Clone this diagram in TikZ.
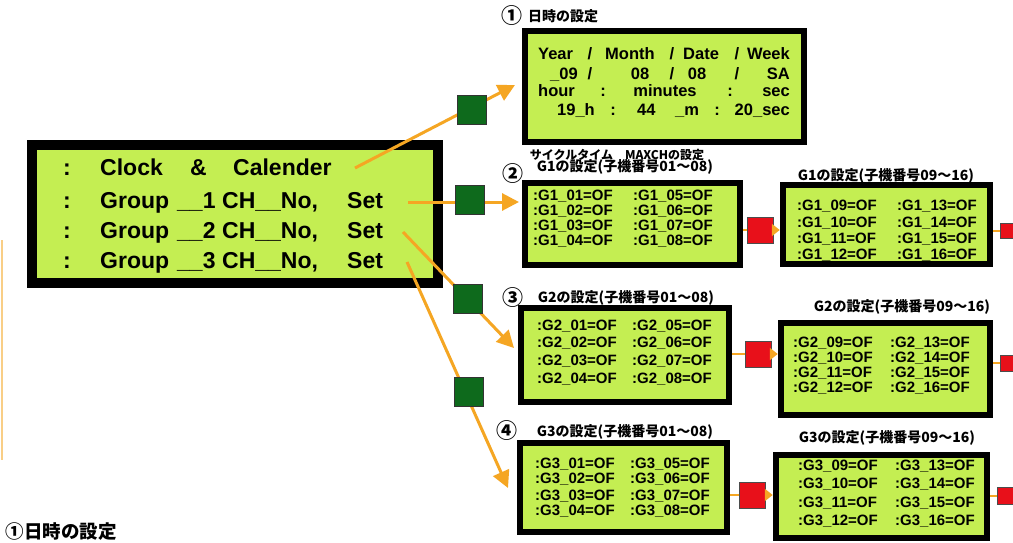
\documentclass[tikz,border=0pt]{standalone}
\usepackage{fontspec}
\setmainfont{Liberation Sans}
\newfontfamily\jp{Noto Sans CJK JP}
\usetikzlibrary{arrows.meta}
\definecolor{lcd}{HTML}{C4EE52}
\definecolor{org}{HTML}{F5A623}
\definecolor{dgreen}{HTML}{0E6A1C}
\definecolor{rred}{HTML}{E8101A}
\tikzset{
 lcdbox/.style={draw=black, fill=lcd, line width=6.5pt, inner sep=0pt},
 mainbox/.style={lcdbox, line width=10pt},
 big/.style={font=\fontsize{23}{25}\selectfont\bfseries, inner sep=0pt, anchor=base west},
 clk/.style={font=\fontsize{16.5}{18}\selectfont\bfseries, inner sep=0pt},
 cell/.style={font=\fontsize{15}{17}\selectfont\bfseries, inner sep=0pt, anchor=base west},
 lbl/.style={font=\jp\fontsize{14}{16}\selectfont\bfseries, inner sep=0pt},
 circ/.style={font=\jp\fontsize{21}{23}\selectfont\bfseries, inner sep=0pt},
 gsq/.style={draw=black!80, fill=dgreen, line width=0.8pt, minimum size=29pt, inner sep=0pt},
 rsq/.style={draw=black!70, fill=rred, line width=0.8pt, minimum size=26pt, inner sep=0pt},
 conn/.style={draw=org, line width=3pt},
 arr/.style={conn, -{Triangle[length=17pt,width=17pt]}},
 short/.style={conn, line width=2.5pt},
 sarr/.style={short, -{Triangle[length=8pt,width=12pt]}},
}
\begin{document}
\begin{tikzpicture}[x=1pt,y=-1pt]
\useasboundingbox (0,0) rectangle (1013,543);
\fill[white] (0,0) rectangle (1013,543);
% faint line at left edge
\draw[org!55, line width=1.5pt] (2,240) -- (2,460);
% boxes
\node[mainbox, minimum width=406pt, minimum height=138pt] (main) at (235,214) {};
\node[lcdbox, minimum width=279pt, minimum height=111pt] (clock) at (664.5,86.5) {};
\node[lcdbox, minimum width=215pt, minimum height=82pt] (g1a) at (632.5,224) {};
\node[lcdbox, minimum width=207pt, minimum height=79pt] (g1b) at (886.5,224.5) {};
\node[lcdbox, minimum width=208pt, minimum height=94pt] (g2a) at (625,355) {};
\node[lcdbox, minimum width=209pt, minimum height=92pt] (g2b) at (885.5,369) {};
\node[lcdbox, minimum width=207pt, minimum height=89pt] (g3a) at (623.5,487.5) {};
\node[lcdbox, minimum width=211pt, minimum height=83pt] (g3b) at (881.5,496.5) {};
% main box text
\foreach \n/\y in {1/175,2/208,3/238,4/268} {
  \node[big, anchor=base] (mc\n) at (67,\y) {:};
}
\node[big] (m1a) at (100,175) {Clock};
\node[big] (m1b) at (190,175) {\&};
\node[big] (m1c) at (233,175) {Calender};
\foreach \n/\y in {2/208,3/238,4/268} {
  \pgfmathtruncatemacro\g{\n-1}
  \node[big] (m\n a) at (100,\y) {Group};
  \node[big] (m\n b) at (177,\y) {\_\_\g};
  \node[big] (m\n c) at (222,\y) {CH\_\_No,};
  \node[big] (m\n d) at (347,\y) {Set};
}
% clock box text
\node[clk, anchor=base west] (c1a) at (538,60) {Year};
\node[clk, anchor=base] (c1b) at (590,60) {/};
\node[clk, anchor=base west] (c1c) at (605,60) {Month};
\node[clk, anchor=base] (c1d) at (672,60) {/};
\node[clk, anchor=base west] (c1e) at (683,60) {Date};
\node[clk, anchor=base] (c1f) at (737,60) {/};
\node[clk, anchor=base east] (c1g) at (790,60) {Week};
\node[clk, anchor=base west] (c2a) at (550,80) {\_09};
\node[clk, anchor=base] (c2b) at (590,80) {/};
\node[clk, anchor=base] (c2c) at (640,80) {08};
\node[clk, anchor=base] (c2d) at (672,80) {/};
\node[clk, anchor=base] (c2e) at (697,80) {08};
\node[clk, anchor=base] (c2f) at (737,80) {/};
\node[clk, anchor=base east] (c2g) at (790,80) {SA};
\node[clk, anchor=base west] (c3a) at (538,96) {hour};
\node[clk, anchor=base] (c3b) at (603,96) {:};
\node[clk, anchor=base] (c3c) at (665,96) {minutes};
\node[clk, anchor=base] (c3d) at (730,96) {:};
\node[clk, anchor=base east] (c3e) at (790,96) {sec};
\node[clk, anchor=base west] (c4a) at (557,116) {19\_h};
\node[clk, anchor=base] (c4b) at (613,116) {:};
\node[clk, anchor=base west] (c4c) at (637,116) {44};
\node[clk, anchor=base west] (c4d) at (675,116) {\_m};
\node[clk, anchor=base] (c4e) at (717,116) {:};
\node[clk, anchor=base east] (c4f) at (790,116) {20\_sec};
% cells
\foreach \a/\b/\y in {01/05/200,02/06/215,03/07/230,04/08/245}
  {\node[cell] (g1a-\a) at (533,\y) {:G1\_\a=OF}; \node[cell] (g1a-\b) at (633,\y) {:G1\_\b=OF};}
\foreach \a/\b/\y in {09/13/210,10/14/227,11/15/243,12/16/259}
  {\node[cell] (g1b-\a) at (797,\y) {:G1\_\a=OF}; \node[cell] (g1b-\b) at (897,\y) {:G1\_\b=OF};}
\foreach \a/\b/\y in {01/05/330,02/06/347,03/07/365,04/08/383}
  {\node[cell] (g2a-\a) at (537,\y) {:G2\_\a=OF}; \node[cell] (g2a-\b) at (632,\y) {:G2\_\b=OF};}
\foreach \a/\b/\y in {09/13/347,10/14/362,11/15/377,12/16/392}
  {\node[cell] (g2b-\a) at (793,\y) {:G2\_\a=OF}; \node[cell] (g2b-\b) at (890,\y) {:G2\_\b=OF};}
\foreach \a/\b/\y in {01/05/468,02/06/483,03/07/500,04/08/515}
  {\node[cell] (g3a-\a) at (535,\y) {:G3\_\a=OF}; \node[cell] (g3a-\b) at (630,\y) {:G3\_\b=OF};}
\foreach \a/\b/\y in {09/13/470,10/14/488,11/15/507,12/16/525}
  {\node[cell] (g3b-\a) at (798,\y) {:G3\_\a=OF}; \node[cell] (g3b-\b) at (895,\y) {:G3\_\b=OF};}
% labels
\node[circ] (n1) at (512,16) {①};
\node[lbl, anchor=west] (l1) at (528,16) {日時の設定};
\node[lbl, font=\jp\fontsize{12}{14}\selectfont\bfseries] (lcyc) at (617,155) {サイクルタイム　MAXCHの設定};
\node[lbl] (l2a) at (625,167) {G1の設定(子機番号01～08)};
\node[circ] (n2) at (513,174) {②};
\node[lbl] (l2b) at (886,176) {G1の設定(子機番号09～16)};
\node[circ] (n3) at (513,298) {③};
\node[lbl] (l3a) at (626,298) {G2の設定(子機番号01～08)};
\node[lbl] (l3b) at (902,307) {G2の設定(子機番号09～16)};
\node[circ] (n4) at (507,431) {④};
\node[lbl] (l4a) at (625,432) {G3の設定(子機番号01～08)};
\node[lbl] (l4b) at (887,438) {G3の設定(子機番号09～16)};
\node[lbl, font=\jp\fontsize{18.5}{20}\selectfont\bfseries] (lbot) at (61,532) {①日時の設定};
% big arrows
\coordinate (a1s) at (355,168); \coordinate (a1e) at (515,85);
\coordinate (a2s) at (408,202); \coordinate (a2e) at (519,202);
\coordinate (a3s) at (403,232); \coordinate (a3e) at (514,348);
\coordinate (a4s) at (407,262); \coordinate (a4e) at (508,488);
\draw[arr] (a1s) -- (a1e);
\draw[arr] (a2s) -- (a2e);
\draw[arr] (a3s) -- (a3e);
\draw[arr] (a4s) -- (a4e);
\node[gsq] (s1) at (472,110) {};
\node[gsq] (s2) at (470,200) {};
\node[gsq] (s3) at (468,299) {};
\node[gsq] (s4) at (469,392) {};
% red squares and short connectors
\node[rsq] (r1) at (760,230) {};
\node[rsq] (r2) at (758,354) {};
\node[rsq] (r3) at (752,495) {};
\node[rsq, minimum size=15pt] (r1r) at (1008,231) {};
\node[rsq, minimum size=16pt] (r2r) at (1008,363) {};
\node[rsq, minimum size=17pt] (r3r) at (1006,496) {};
\draw[short] (g1a.east |- r1) -- (r1.west);
\draw[sarr] (r1.east) -- (g1b.west |- r1);
\draw[short] (g1b.east |- r1r) -- (r1r.west);
\draw[short] (g2a.east |- r2) -- (r2.west);
\draw[sarr] (r2.east) -- (g2b.west |- r2);
\draw[short] (g2b.east |- r2r) -- (r2r.west);
\draw[short] (g3a.east |- r3) -- (r3.west);
\draw[sarr] (r3.east) -- (g3b.west |- r3);
\draw[short] (g3b.east |- r3r) -- (r3r.west);
\end{tikzpicture}
\end{document}
